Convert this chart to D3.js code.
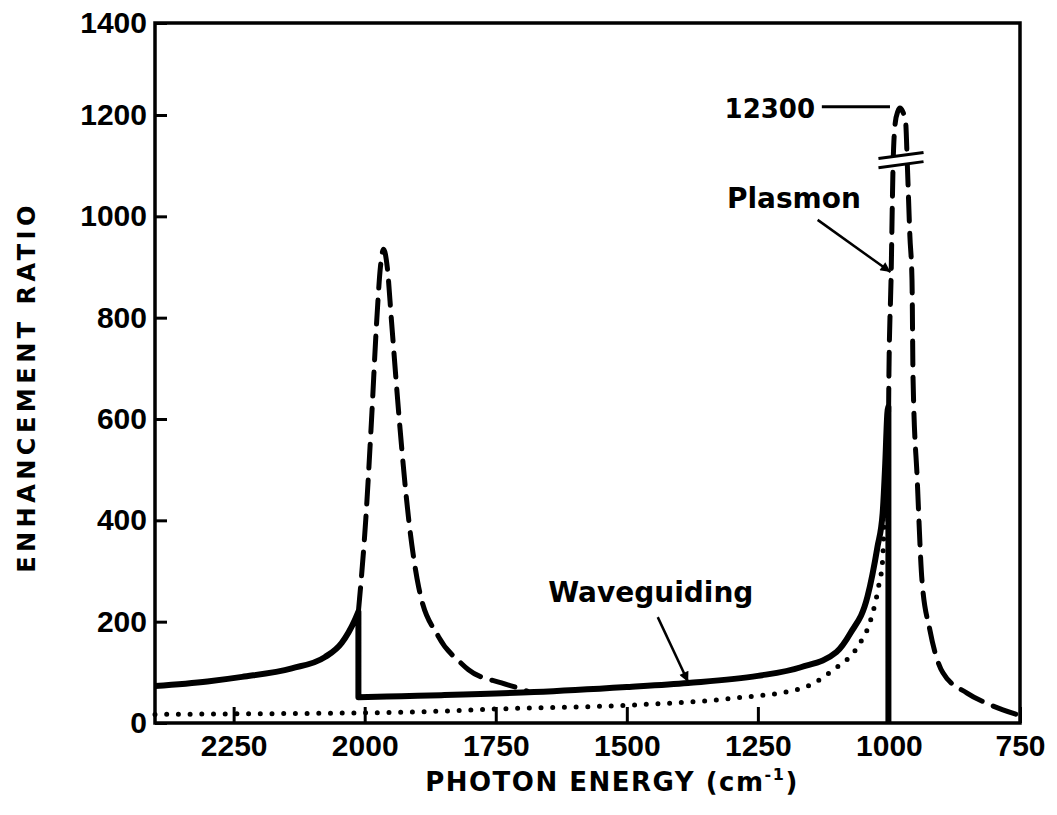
<!DOCTYPE html>
<meta charset="utf-8">
<head>
<style>
  body { margin: 0; background: #fff; }
  svg { display: block; }
  .lbl { font-family: "DejaVu Sans", sans-serif; font-weight: bold; fill: #000; }
</style>
</head>
<body>
<div id="chart"></div>
<script src="https://d3js.org/d3.v7.min.js"></script>
<script>
// tick values
var xTicks = [2250, 2000, 1750, 1500, 1250, 1000, 750];
var yTicks = [0, 200, 400, 600, 800, 1000, 1200, 1400];

// waveguiding (solid), before the 2000 cutoff
var waveX1 = [2400, 2300, 2234, 2139, 2076, 2044, 2019, 2012];
var waveY1 = [73, 82, 91, 108, 130, 158, 203, 220];
// waveguiding (solid), after the cutoff up to the plasmon edge
var waveX2 = [2012, 1930, 1854, 1677, 1500, 1383, 1250, 1168, 1100, 1073, 1041, 1022, 1012, 1007, 1003, 1001];
var waveY2 = [51, 53, 55, 61, 71, 79, 93, 110, 140, 178, 249, 347, 414, 513, 612, 624];

// dashed peak near 2000
var peakX1 = [2012, 1998, 1987, 1977, 1970, 1964, 1957, 1949, 1934, 1916, 1897, 1859, 1816, 1802, 1739, 1707, 1690];
var peakY1 = [220, 401, 598, 795, 900, 935, 900, 795, 598, 401, 268, 170, 118, 105, 79, 69, 63];

// dashed plasmon peak near 1000 (top is on the broken axis, 12300)
var peakX2 = [1002, 1000, 996, 992, 988, 983, 979, 974, 968, 965, 960, 956, 954, 946, 937, 922, 897, 851, 807, 754];
var peakY2 = [400, 690, 874, 1105, 1184, 1208, 1215, 1208, 1184, 1105, 960, 874, 680, 480, 282, 184, 99, 59, 36, 16];

// dotted curve
var dotX = [2400, 2250, 2000, 1930, 1739, 1500, 1296, 1168, 1106, 1060, 1035, 1020, 1012, 1010, 1006];
var dotY = [17, 18, 20, 21, 28, 35, 49, 68, 105, 150, 203, 268, 322, 367, 440];

var W = 1057, H = 815;

var svg = d3.select("#chart").append("svg")
    .attr("width", W)
    .attr("height", H)
    .style("background", "#fff");

var x = d3.scaleLinear().domain([2400, 750]).range([155, 1020]);
// the scanned axis is a little compressed above 1200
var y = d3.scaleLinear().domain([0, 1200, 1400]).range([723, 115, 23]);

function pts(xs, ys) {
  return xs.map(function(d, i) { return [d, ys[i]]; });
}

var line = d3.line()
    .x(function(d) { return x(d[0]); })
    .y(function(d) { return y(d[1]); })
    .curve(d3.curveMonotoneX);

var straight = d3.line()
    .x(function(d) { return x(d[0]); })
    .y(function(d) { return y(d[1]); });

// dotted
svg.append("path")
    .attr("d", line(pts(dotX, dotY)))
    .attr("fill", "none")
    .attr("stroke", "#000")
    .attr("stroke-width", 5)
    .attr("stroke-linecap", "round")
    .attr("stroke-dasharray", "0,11.7");

// dashed peaks
[pts(peakX1, peakY1), pts(peakX2, peakY2)].forEach(function(p) {
  svg.append("path")
      .attr("d", line(p))
      .attr("fill", "none")
      .attr("stroke", "#000")
      .attr("stroke-width", 5)
      .attr("stroke-linecap", "round")
      .attr("stroke-dasharray", "24,12");
});

// solid waveguiding line with the two vertical drops
var p1 = pts(waveX1, waveY1), p2 = pts(waveX2, waveY2);
var solidD = line(p1) + line(p2).replace(/^M/, "L") +
    "L" + x(waveX2[waveX2.length - 1]) + "," + y(0);
svg.append("path")
    .attr("d", solidD)
    .attr("fill", "none")
    .attr("stroke", "#000")
    .attr("stroke-width", 6)
    .attr("stroke-linejoin", "round");

// axis break on the plasmon peak
var brkTop = [[1020, 1114], [934, 1126]];
var brkBot = [[1020, 1096], [934, 1108]];
svg.append("path")
    .attr("d", straight(brkTop.concat(brkBot.slice().reverse())) + "Z")
    .attr("fill", "#fff");
[brkTop, brkBot].forEach(function(b) {
  svg.append("path")
      .attr("d", straight(b))
      .attr("stroke", "#000")
      .attr("stroke-width", 3);
});

// frame
svg.append("rect")
    .attr("x", x(2400))
    .attr("y", y(1400))
    .attr("width", x(750) - x(2400))
    .attr("height", y(0) - y(1400))
    .attr("fill", "none")
    .attr("stroke", "#000")
    .attr("stroke-width", 3.5);

// axes
var gx = svg.append("g")
    .attr("transform", "translate(0," + y(0) + ")")
    .call(d3.axisBottom(x).tickValues(xTicks).tickSize(-16).tickPadding(12).tickFormat(d3.format("d")));
var gy = svg.append("g")
    .attr("transform", "translate(" + x(2400) + ",0)")
    .call(d3.axisLeft(y).tickValues(yTicks).tickSize(-12).tickPadding(8).tickFormat(d3.format("d")));

[gx, gy].forEach(function(g) {
  g.select(".domain").remove();
  g.attr("font-family", "'Liberation Sans', Arial, sans-serif")
   .attr("font-size", 30)
   .attr("font-weight", "bold");
  g.selectAll(".tick line").attr("stroke", "#000").attr("stroke-width", 3);
  g.selectAll(".tick text").attr("fill", "#000");
});

// axis titles
svg.append("text")
    .attr("class", "lbl")
    .attr("transform", "translate(35,387) rotate(-90)")
    .attr("text-anchor", "middle")
    .attr("font-size", 24)
    .attr("letter-spacing", 4.5)
    .text("ENHANCEMENT RATIO");

var xt = svg.append("text")
    .attr("class", "lbl")
    .attr("x", 612)
    .attr("y", 791)
    .attr("text-anchor", "middle")
    .attr("font-size", 26)
    .attr("letter-spacing", 1.5);
xt.append("tspan").text("PHOTON ENERGY (cm");
xt.append("tspan").attr("font-size", 16).attr("dy", -11).text("-1");
xt.append("tspan").attr("dy", 11).text(")");

// annotations
svg.append("text")
    .attr("class", "lbl")
    .attr("x", x(1141))
    .attr("y", y(1213))
    .attr("dy", "0.36em")
    .attr("text-anchor", "end")
    .attr("font-size", 26)
    .text("12300");
svg.append("path")
    .attr("d", straight([[1128, 1218], [998, 1218]]))
    .attr("stroke", "#000")
    .attr("stroke-width", 3);

svg.append("text")
    .attr("class", "lbl")
    .attr("x", x(1309))
    .attr("y", y(1036))
    .attr("dy", "0.36em")
    .attr("font-size", 28)
    .text("Plasmon");

svg.append("text")
    .attr("class", "lbl")
    .attr("x", x(1650))
    .attr("y", y(259))
    .attr("dy", "0.36em")
    .attr("font-size", 28)
    .text("Waveguiding");

svg.append("defs").append("marker")
    .attr("id", "arrow")
    .attr("viewBox", "0 0 10 10")
    .attr("refX", 10).attr("refY", 5)
    .attr("markerWidth", 5).attr("markerHeight", 4)
    .attr("markerUnits", "strokeWidth")
    .attr("orient", "auto")
  .append("path")
    .attr("d", "M0,0L10,5L0,10Z")
    .attr("fill", "#000");

[[[1136, 993], [997, 890]], [[1441, 209], [1383, 81]]].forEach(function(a) {
  svg.append("path")
      .attr("d", straight(a))
      .attr("stroke", "#000")
      .attr("stroke-width", 2.5)
      .attr("marker-end", "url(#arrow)");
});
</script>
</body>
